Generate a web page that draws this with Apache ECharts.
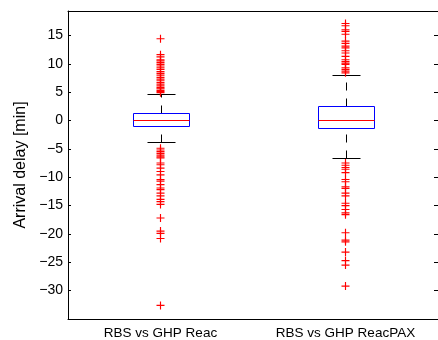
<!DOCTYPE html>
<html>
<head>
<meta charset="utf-8">
<script src="https://cdn.jsdelivr.net/npm/echarts@6/dist/echarts.min.js"></script>
<style>
  html, body { margin: 0; padding: 0; background: #fff; }
  #chart { width: 438px; height: 340px; }
</style>
</head>
<body>
<div id="chart"></div>
<script>
// categories and box statistics
const categories = ['RBS vs GHP Reac', 'RBS vs GHP ReacPAX'];
const whiskerLow = [-3.75, -6.6];
const q1 = [-0.96, -1.31];
const median = [0.03, 0.03];
const q3 = [1.31, 2.48];
const whiskerHigh = [4.68, 7.99];

// outliers per box
const outliersReac = [
  14.4, 11.6, 11.2, 10.7, 10.5, 10.2, 9.9, 9.6, 9.3, 9.0, 8.6, 8.3, 8.0, 7.6, 7.3, 7.0,
  6.7, 6.4, 6.1, 5.8, 5.6, 5.3, 5.1, 4.9,
  -4.9, -5.2, -5.5, -5.8, -6.1, -6.4, -6.6, -7.5, -7.8, -8.4, -9.0, -9.6, -10.4, -10.7,
  -11.3, -11.9, -12.2, -12.8, -13.3, -13.9, -14.3, -14.8, -17.2, -19.5, -19.9, -20.8, -32.6
];
const outliersReacPAX = [
  17.1, 16.7, 16.0, 15.7, 15.2, 14.0, 13.6, 13.1, 12.8, 12.3, 11.9, 11.3, 10.7, 10.4,
  10.1, 9.9, 9.3, 9.0, 8.7, 8.4,
  -7.5, -7.9, -8.3, -8.6, -9.2, -10.4, -10.8, -11.7, -12.0, -12.8, -13.3, -14.6, -15.0,
  -15.7, -16.3, -16.6, -19.8, -21.1, -21.4, -23.2, -24.7, -25.5, -29.2
];

// y axis
const yMin = -35;
const yMax = 19.3;
const yStep = 5;

const font = 'Liberation Sans, Arial, Helvetica, sans-serif';
const plusSymbol = 'path://M3,0H4V3H7V4H4V7H3V4H0V3H3Z';

const boxData = categories.map((c, i) => [i, whiskerLow[i], q1[i], median[i], q3[i], whiskerHigh[i]]);
const outlierData = [];
outliersReac.forEach(v => outlierData.push([0, v]));
outliersReacPAX.forEach(v => outlierData.push([1, v]));

function crisp(v) {
  return Math.round(v) + 0.5;
}

function renderBox(params, api) {
  const idx = api.value(0);
  const x = crisp(api.coord([idx, 0])[0]);
  const bw = Math.round(api.size([1, 0])[0] * 0.3);
  const cw = Math.round(bw / 2);
  const yLow = crisp(api.coord([idx, api.value(1)])[1]);
  const yQ1 = crisp(api.coord([idx, api.value(2)])[1]);
  const yMed = crisp(api.coord([idx, api.value(3)])[1]);
  const yQ3 = crisp(api.coord([idx, api.value(4)])[1]);
  const yHigh = crisp(api.coord([idx, api.value(5)])[1]);
  const dashed = { stroke: '#000', lineWidth: 1, lineDash: [8, 8] };
  const solid = { stroke: '#000', lineWidth: 1 };
  return {
    type: 'group',
    children: [
      { type: 'line', shape: { x1: x, y1: yQ3, x2: x, y2: yHigh }, style: dashed },
      { type: 'line', shape: { x1: x, y1: yLow, x2: x, y2: yQ1 }, style: dashed },
      { type: 'line', shape: { x1: x - cw / 2, y1: yHigh, x2: x + cw / 2, y2: yHigh }, style: solid },
      { type: 'line', shape: { x1: x - cw / 2, y1: yLow, x2: x + cw / 2, y2: yLow }, style: solid },
      {
        type: 'rect',
        shape: { x: x - bw / 2, y: yQ3, width: bw, height: yQ1 - yQ3 },
        style: { fill: 'none', stroke: '#0000ff', lineWidth: 1 }
      },
      { type: 'line', shape: { x1: x - bw / 2, y1: yMed, x2: x + bw / 2, y2: yMed }, style: { stroke: '#ff0000', lineWidth: 1 } }
    ]
  };
}

const chart = echarts.init(document.getElementById('chart'));
chart.setOption({
  animation: false,
  backgroundColor: '#fff',
  grid: {
    left: 68,
    right: -3,
    top: 11,
    bottom: 18,
    show: false
  },
  xAxis: [
    {
      type: 'category',
      data: categories,
      boundaryGap: true,
      axisLine: { onZero: false, lineStyle: { color: '#000', width: 1 } },
      axisTick: { show: false },
      axisLabel: {
        color: '#000',
        fontSize: 13.5,
        fontFamily: font,
        margin: 7,
        interval: 0
      },
      splitLine: { show: false }
    },
    {
      type: 'category',
      position: 'top',
      data: categories,
      axisLine: { onZero: false, lineStyle: { color: '#000', width: 1 } },
      axisTick: { show: false },
      axisLabel: { show: false },
      splitLine: { show: false }
    }
  ],
  yAxis: [
    {
      type: 'value',
      min: yMin,
      max: yMax,
      interval: yStep,
      name: 'Arrival delay [min]',
      nameLocation: 'middle',
      nameGap: 36,
      nameTextStyle: { color: '#000', fontSize: 16, fontFamily: font },
      axisLine: { show: true, onZero: false, lineStyle: { color: '#000', width: 1 } },
      axisTick: { show: true, inside: true, length: 3, lineStyle: { color: '#000' } },
      axisLabel: {
        color: '#000',
        fontSize: 14,
        fontFamily: font,
        margin: 5,
        showMinLabel: false,
        showMaxLabel: false,
        formatter: v => (v < 0 ? '\u2212' + Math.abs(v) : String(v))
      },
      splitLine: { show: false }
    },
    {
      type: 'value',
      position: 'right',
      min: yMin,
      max: yMax,
      interval: yStep,
      axisLine: { show: true, onZero: false, lineStyle: { color: '#000', width: 1 } },
      axisTick: { show: true, inside: true, length: 4, lineStyle: { color: '#000' } },
      axisLabel: { show: false },
      splitLine: { show: false }
    }
  ],
  series: [
    {
      type: 'custom',
      renderItem: renderBox,
      data: boxData,
      encode: { x: 0, y: [1, 2, 3, 4, 5] },
      z: 2
    },
    {
      type: 'scatter',
      data: outlierData,
      symbol: plusSymbol,
      symbolSize: 8,
      itemStyle: { color: '#ff0000', opacity: 1 },
      z: 3
    }
  ]
});
</script>
</body>
</html>
